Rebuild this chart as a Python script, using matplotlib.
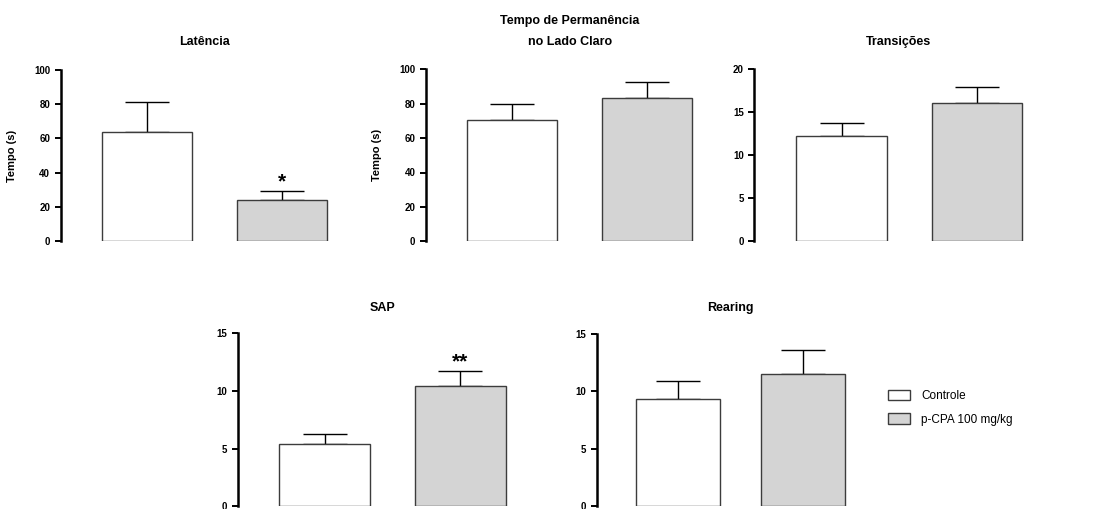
import matplotlib
matplotlib.use("Agg")
import matplotlib.pyplot as plt
from matplotlib.patches import Patch

plt.rcParams['font.family'] = ['Liberation Sans', 'DejaVu Sans']

# Data: mean and SEM for each group (Controle, p-CPA 100 mg/kg)
groups = ["Controle", "p-CPA 100 mg/kg"]

latencia_mean = [63.6, 23.8]
latencia_sem = [17.7, 5.3]

permanencia_mean = [70.3, 83.5]
permanencia_sem = [9.7, 8.9]

transicoes_mean = [12.2, 16.1]
transicoes_sem = [1.6, 1.9]

sap_mean = [5.4, 10.4]
sap_sem = [0.9, 1.3]

rearing_mean = [9.3, 11.5]
rearing_sem = [1.6, 2.1]

titles = ["Latência", "Tempo de Permanência\nno Lado Claro", "Transições", "SAP", "Rearing"]
yticks_100 = [0, 20, 40, 60, 80, 100]
yticks_20 = [0, 5, 10, 15, 20]
yticks_15 = [0, 5, 10, 15]
signif = [["", "*"], ["", ""], ["", ""], ["", "**"], ["", ""]]

W, H = 1094, 509
fig = plt.figure(figsize=(W / 100, H / 100), dpi=100)

colors = ["white", "#d4d4d4"]
edge = "#3c3c3c"


def panel(mean, sem, spine_x, c1, c2, bar_w, y0, ytop, ymax, ticks, title,
          title_xy, stars, ylabel=None, ylabel_x=None):
    unit = c2 - c1
    right_x = c2 + 0.55 * unit
    ax = fig.add_axes([spine_x / W, (H - y0) / H, (right_x - spine_x) / W, (y0 - ytop) / H])
    x = [0, 1]
    ax.errorbar(x, mean, yerr=[[0, 0], sem], fmt="none", ecolor="black",
                elinewidth=1.0, capsize=15.8, capthick=1.0, zorder=1)
    ax.bar(x, mean, width=bar_w / unit, color=colors, edgecolor=edge,
           linewidth=1.0, zorder=2)
    ax.set_xlim(-(c1 - spine_x) / unit, 1 + (right_x - c2) / unit)
    ax.set_ylim(0, ymax)
    ax.set_yticks(ticks)
    ax.set_xticks([])
    for s in ["top", "right", "bottom"]:
        ax.spines[s].set_visible(False)
    ax.spines["left"].set_linewidth(1.8)
    ax.spines["left"].set_color("black")
    ax.tick_params(axis="y", direction="out", length=4, width=1.4, pad=3.5,
                   labelsize=7, colors="black")
    for lab in ax.get_yticklabels():
        lab.set_fontweight("bold")
    for xi, m, s, st in zip(x, mean, sem, stars):
        if st:
            ax.text(xi, m + s, st, ha="center", va="bottom", fontsize=15,
                    fontweight="bold")
    fig.text(title_xy[0] / W, 1 - title_xy[1] / H, title, ha="center",
             va="center", fontsize=9, fontweight="bold", linespacing=2.0)
    if ylabel:
        ax.set_ylabel(ylabel, fontsize=8, fontweight="bold")
        ax.yaxis.set_label_coords((ylabel_x - spine_x) / (right_x - spine_x), 0.5)
    return ax


panel(latencia_mean, latencia_sem, 60.5, 147, 282, 90, 241, 70, 100, yticks_100,
      titles[0], (204, 42), signif[0], "Tempo (s)", 17)
panel(permanencia_mean, permanencia_sem, 425.7, 512.3, 647.3, 90, 241.3, 69.3, 100,
      yticks_100, titles[1], (570, 31.5), signif[1], "Tempo (s)", 382)
panel(transicoes_mean, transicoes_sem, 754.3, 841.7, 977, 90.5, 241.3, 69.3, 20,
      yticks_20, titles[2], (899, 42), signif[2])
panel(sap_mean, sap_sem, 237.7, 324.8, 460.2, 91, 506.3, 333.3, 15,
      yticks_15, titles[3], (382.5, 308), signif[3])
panel(rearing_mean, rearing_sem, 596.7, 677.5, 802.8, 84, 506.3, 334, 15,
      yticks_15, titles[4], (730, 308), signif[4])

handles = [Patch(facecolor=c, edgecolor=edge, linewidth=1.0) for c in colors]
fig.legend(handles, groups, loc="upper left", bbox_to_anchor=(888 / W, 1 - 390 / H),
           frameon=False, fontsize=8.5, handlelength=1.85, handleheight=0.95,
           handletextpad=0.95, labelspacing=0.95, borderpad=0, borderaxespad=0)

fig.savefig("out.png", dpi=100)
